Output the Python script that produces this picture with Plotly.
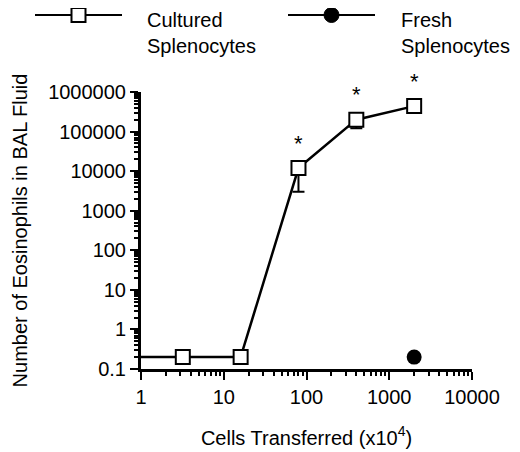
import numpy as np
import plotly.graph_objects as go

# cells transferred (x10^4) and eosinophils recovered in BAL fluid
cells = [3.2, 16, 80, 400, 2000]
cultured = [0.2, 0.2, 12000, 200000, 440000]
cultured_err_plus = [0, 0, 4000, 0, 0]
cultured_err_minus = [0, 0, 9000, 78000, 0]
significant = [False, False, True, True, True]

fresh_cells = [2000]
fresh = [0.2]

# the cultured curve is drawn in from the y axis
line_cells = [1] + cells
line_values = [cultured[0]] + cultured

y_ticks = [0.1, 1, 10, 100, 1000, 10000, 100000, 1000000]
y_ticktext = ["0.1", "1", "10", "100", "1000", "10000", "100000", "1000000"]
x_ticks = [1, 10, 100, 1000, 10000]

# the page body adds an 8px margin, so the figure is 8px smaller than the window
OFF = 8
W, H = 520 - OFF, 452 - OFF
L, R, T, B = 141 - OFF, 48, 92 - OFF, 83
FONT = "Liberation Sans, Arial, Helvetica, sans-serif"


def px(x):
    # window pixel -> paper
    return (x - OFF - L) / (W - L - R)


def py(y):
    return (H - B - (y - OFF)) / (H - T - B)


def minor_between(majors):
    return [k * m for m in majors[:-1] for k in range(2, 10)]


fig = go.Figure()

fig.add_trace(go.Scatter(
    x=line_cells, y=line_values, mode="lines",
    line={"color": "black", "width": 2.5},
    showlegend=False, hoverinfo="skip",
))
fig.add_trace(go.Scatter(
    x=cells, y=cultured, mode="markers", name="Cultured Splenocytes",
    marker={"symbol": "square", "size": 14, "color": "white",
            "line": {"color": "black", "width": 2}},
    error_y={"type": "data", "array": cultured_err_plus,
             "arrayminus": cultured_err_minus, "color": "black",
             "thickness": 2, "width": 6},
    showlegend=False,
))
fig.add_trace(go.Scatter(
    x=fresh_cells, y=fresh, mode="markers", name="Fresh Splenocytes",
    marker={"symbol": "circle", "size": 15, "color": "black"},
    showlegend=False,
))

# significance stars
for c, v, s in zip(cells, cultured, significant):
    if s:
        fig.add_annotation(x=np.log10(c), y=np.log10(v), text="*",
                           showarrow=False, yshift=25,
                           font={"size": 22, "color": "black", "family": FONT})

# hand-drawn legend across the top
legend_items = [
    {"x0": 35, "x1": 122, "marker": "rect", "tx": 146, "text": "Cultured<br>Splenocytes"},
    {"x0": 288, "x1": 375, "marker": "circle", "tx": 400, "text": "Fresh<br>Splenocytes"},
]
for item in legend_items:
    ly = py(15)
    fig.add_shape(type="line", xref="paper", yref="paper",
                  x0=px(item["x0"]), x1=px(item["x1"]), y0=ly, y1=ly,
                  line={"color": "black", "width": 2})
    xc = px((item["x0"] + item["x1"]) / 2)
    if item["marker"] == "rect":
        fig.add_shape(type="rect", xref="paper", yref="paper",
                      xsizemode="pixel", ysizemode="pixel", xanchor=xc, yanchor=ly,
                      x0=-7, x1=7, y0=-7, y1=7,
                      fillcolor="white", line={"color": "black", "width": 2})
    else:
        fig.add_shape(type="circle", xref="paper", yref="paper",
                      xsizemode="pixel", ysizemode="pixel", xanchor=xc, yanchor=ly,
                      x0=-7.5, x1=7.5, y0=-7.5, y1=7.5,
                      fillcolor="black", line={"color": "black", "width": 1})
    fig.add_annotation(x=px(item["tx"]), y=py(OFF), xref="paper", yref="paper",
                       xanchor="left", yanchor="top", align="left", borderpad=0,
                       text=item["text"], showarrow=False,
                       font={"size": 20, "color": "black", "family": FONT})

axis_style = dict(
    type="log", showgrid=False, zeroline=False, automargin=False,
    showline=True, linecolor="black", linewidth=3,
    ticks="outside", ticklen=8, tickwidth=2, tickcolor="black",
    tickfont={"size": 20, "color": "black", "family": FONT},
)
minor_style = {"ticks": "outside", "ticklen": 4, "tickwidth": 1.5,
               "tickcolor": "black", "showgrid": False}

fig.update_xaxes(**axis_style, range=[0, 4],
                 tickvals=x_ticks, ticktext=[str(v) for v in x_ticks],
                 minor={**minor_style, "tickvals": minor_between(x_ticks)},
                 title={"text": "Cells Transferred (x10<sup>4</sup>)", "standoff": 24,
                        "font": {"size": 20, "color": "black", "family": FONT}})
fig.update_yaxes(**axis_style, range=[-1, 6],
                 tickvals=y_ticks, ticktext=y_ticktext,
                 minor={**minor_style, "tickvals": minor_between(y_ticks)},
                 title={"text": "Number of Eosinophils in BAL Fluid", "standoff": 16,
                        "font": {"size": 20, "color": "black", "family": FONT}})

fig.update_layout(
    width=W, height=H,
    margin={"l": L, "r": R, "t": T, "b": B},
    paper_bgcolor="white", plot_bgcolor="white",
    font={"family": FONT, "color": "black"},
)

fig.write_html("out.html")
